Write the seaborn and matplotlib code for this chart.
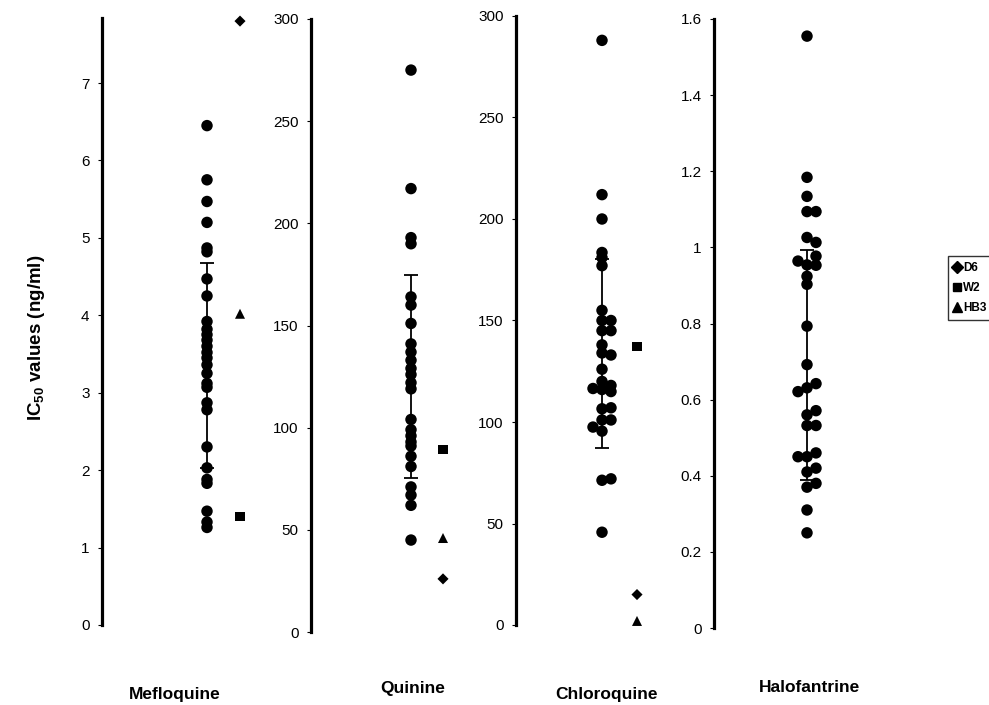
import pandas as pd
import matplotlib
matplotlib.use("Agg")
import matplotlib.pyplot as plt
from matplotlib.lines import Line2D
import seaborn as sns

# IC50 values
mefloquine = [6.45, 5.75, 5.47, 5.2, 4.87, 4.82, 4.47, 4.25, 3.92, 3.82, 3.75, 3.68, 3.6, 3.52,
              3.45, 3.36, 3.25, 3.12, 3.07, 2.87, 2.78, 2.3, 2.03, 1.88, 1.83, 1.47, 1.33, 1.26]
quinine = [275, 217, 193, 190, 164, 160, 151, 141, 137, 133, 129, 126, 122, 119,
           104, 99, 96, 93, 91, 86, 81, 71, 67, 62, 45]
chloroquine = [288, 212, 200, 183.5, 181, 177, 155, 150, 150, 145, 145, 138, 134, 133, 126,
               120, 116.5, 118, 116, 115, 106.5, 107, 101, 101, 97.5, 95.5, 71.3, 72, 45.7]
chloroquine_lane = [0, 0, 0, 0, 0, 0, 0, 0, 1, 0, 1, 0, 0, 1, 0,
                    0, -1, 1, 0, 1, 0, 1, 0, 1, -1, 0, 0, 1, 0]
halofantrine = [1.555, 1.184, 1.134, 1.094, 1.094, 1.026, 1.013, 0.964, 0.954, 0.977, 0.953,
                0.924, 0.903, 0.793, 0.692, 0.642, 0.631, 0.621, 0.571, 0.56, 0.532, 0.532,
                0.45, 0.45, 0.46, 0.42, 0.41, 0.38, 0.37, 0.31, 0.25]
halofantrine_lane = [0, 0, 0, 0, 1, 0, 1, -1, 0, 1, 1,
                     0, 0, 0, 0, 1, 0, -1, 1, 0, 0, 1,
                     -1, 0, 1, 1, 0, 1, 0, 0, 0]

# mean +/- SD bars
means = [3.355, 125.0, 133.7, 0.692]
sds = [1.325, 49.6, 46.7, 0.302]

# reference strains
strains = ["D6", "W2", "HB3"]
ref_mef = [7.8, 1.4, 4.02]
ref_qui = [26, 89.5, 46]
ref_chl = [15, 137, 2]

drugs = ["Mefloquine", "Quinine", "Chloroquine", "Halofantrine"]
yticks = [[0, 1, 2, 3, 4, 5, 6, 7],
          [0, 50, 100, 150, 200, 250, 300],
          [0, 50, 100, 150, 200, 250, 300],
          [0, 0.2, 0.4, 0.6, 0.8, 1, 1.2, 1.4, 1.6]]
ylabels = [[str(t) for t in yticks[0]], [str(t) for t in yticks[1]],
           [str(t) for t in yticks[2]],
           ["0", "0.2", "0.4", "0.6", "0.8", "1", "1.2", "1.4", "1.6"]]
ymax = [7.84, 300, 300, 1.6]

sns.set_style("white")
plt.rcParams['font.family'] = ['Liberation Sans', 'DejaVu Sans']
plt.rcParams['text.color'] = 'black'
plt.rcParams['mathtext.fontset'] = 'custom'
plt.rcParams['mathtext.rm'] = 'Liberation Sans'
plt.rcParams['mathtext.bf'] = 'Liberation Sans:bold'

W, H = 989, 705
fig = plt.figure(figsize=(W / 100, H / 100), dpi=100)

# layout in pixels: spine x, y of zero, y of top, column x, px per x-unit
layout = [(102, 625, 18, 207, 33),
          (311, 632, 19, 411, 32),
          (516, 625, 16, 602, 35),
          (714, 628, 19, 807, 33)]

pat_vals = [mefloquine, quinine, chloroquine, halofantrine]
pat_lanes = [[0] * len(mefloquine), [0] * len(quinine), chloroquine_lane, halofantrine_lane]
ref_vals = [ref_mef, ref_qui, ref_chl, None]
marker_map = {"D6": "D", "W2": "s", "HB3": "^"}
size_map = {"D6": 32, "W2": 42, "HB3": 52}
axw = 160

for i, (sx, y0, yt, cx, ppu) in enumerate(layout):
    ax = fig.add_axes([sx / W, (H - y0) / H, axw / W, (y0 - yt) / H])
    left = -(cx - sx) / ppu
    lane_w = 9 / ppu
    df = pd.DataFrame({"x": [l * lane_w for l in pat_lanes[i]], "y": pat_vals[i]})
    ax.errorbar(0, means[i], yerr=sds[i], color="black", lw=1.3, capsize=5,
                capthick=1.3, zorder=1)
    sns.scatterplot(data=df, x="x", y="y", ax=ax, color="black", s=68,
                    edgecolor="none", zorder=3, legend=False, clip_on=False)
    if ref_vals[i] is not None:
        rdf = pd.DataFrame({"x": [1, 1, 1], "y": ref_vals[i], "strain": strains})
        for st in strains:
            sub = rdf[rdf["strain"] == st]
            sns.scatterplot(data=sub, x="x", y="y", ax=ax, color="black",
                            marker=marker_map[st], s=size_map[st],
                            edgecolor="none", zorder=3, legend=False, clip_on=False)
    ax.set_xlim(left, left + axw / ppu)
    ax.set_ylim(0, ymax[i])
    ax.set_yticks(yticks[i])
    ax.set_yticklabels(ylabels[i], fontsize=11, color="black")
    ax.set_xticks([])
    ax.set_xlabel("")
    ax.set_ylabel("")
    for s in ["top", "right", "bottom"]:
        ax.spines[s].set_visible(False)
    ax.spines["left"].set_linewidth(2.3)
    ax.spines["left"].set_color("black")
    ax.tick_params(axis="y", direction="out", length=3, width=0.8, pad=6,
                   colors="black", left=True)
    ax.patch.set_alpha(0)

# drug names under each panel
name_pos = [(175, 695), (413, 688), (607, 695), (810, 688)]
for name, (x, y) in zip(drugs, name_pos):
    fig.text(x / W, 1 - y / H, name, ha="center", va="center",
             fontsize=12.5, fontweight="bold", color="black")

fig.text(37 / W, 1 - 338 / H, r"IC$_{\mathbf{50}}$ values (ng/ml)", rotation=90,
         ha="center", va="center", fontsize=13.5, fontweight="bold", color="black")

handles = [Line2D([], [], marker=marker_map[s], color="black", ls="none",
                  markersize=6 if s != "HB3" else 7) for s in strains]
fig.legend(handles, strains, loc="upper left", bbox_to_anchor=(948 / W, 1 - 256 / H),
           frameon=True, fancybox=False, edgecolor="black", handlelength=0.6,
           handletextpad=0.2, borderpad=0.5, labelspacing=0.7, borderaxespad=0,
           prop={"size": 8.5, "weight": "bold"})

fig.savefig("out.png", dpi=100)
